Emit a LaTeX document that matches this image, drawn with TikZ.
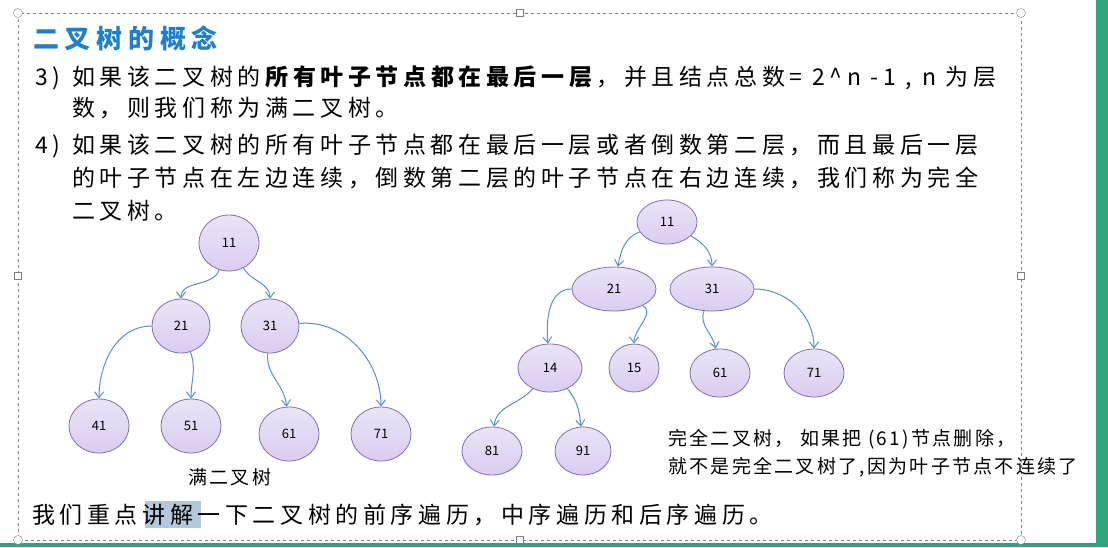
\documentclass[tikz,border=0pt]{standalone}
\usepackage{fontspec}
\setmainfont{Noto Sans CJK SC}
\newfontfamily\bodyf[LetterSpace=20]{Noto Sans CJK SC}
\newfontfamily\capf[LetterSpace=12]{Noto Sans CJK SC}
\newfontfamily\ttlf[LetterSpace=22]{Noto Sans CJK SC}
\usetikzlibrary{shapes.geometric,arrows.meta}
\definecolor{ttl}{HTML}{1F7FC8}
\definecolor{edge}{HTML}{5B8FC9}
\definecolor{nfill}{HTML}{D9CDF0}
\definecolor{nline}{HTML}{8470A8}
\definecolor{hl}{HTML}{B4C8DC}
\definecolor{side}{HTML}{2FA37A}
\tikzset{
 tn/.style={ellipse,draw=nline,line width=0.8pt,top color=nfill!55,bottom color=nfill,minimum width=2*#1,inner sep=0pt,font=\fontsize{13}{13}\selectfont},
 tn/.default=30,
 ed/.style={draw=edge,line width=1pt,-{Straight Barb[length=6pt,width=9pt]}},
 body/.style={anchor=base west,inner sep=0pt,font=\bodyf\fontsize{23}{23}\selectfont},
 captxt/.style={anchor=base west,inner sep=0pt,font=\capf\fontsize{19}{19}\selectfont},
 hdl/.style={circle,draw=gray,fill=white,minimum size=9pt,inner sep=0pt},
 hsq/.style={rectangle,draw=gray,fill=white,minimum size=7pt,inner sep=0pt}
}
\begin{document}
\begin{tikzpicture}[x=1pt,y=-1pt]
\useasboundingbox (0,0) rectangle (1108,547);
\fill[white] (0,0) rectangle (1108,547);
\fill[side] (1096,0) rectangle (1108,547);
\fill[side] (0,543) rectangle (1108,547);
% frame
\draw[gray,dashed,line width=0.8pt] (18,13) rectangle (1021,540);
\foreach \p in {(18,13),(1021,13),(18,540),(1021,540)} \node[hdl] at \p {};
\foreach \p in {(520,13),(520,540),(18,276),(1021,276)} \node[hsq] at \p {};
% text
\node[anchor=base west,inner sep=0pt,text=ttl,font=\ttlf\fontsize{26}{26}\selectfont\bfseries] (title) at (33,48) {二叉树的概念};
\node[body] (n3) at (35,85) {3)};
\node[body] (l1) at (72,85) {如果该二叉树的\textbf{所有叶子节点都在最后一层}，并且结点总数= 2\^{}n -1 , n 为层};
\node[body] (l2) at (72,116) {数，则我们称为满二叉树。};
\node[body] (n4) at (35,153) {4)};
\node[body] (l3) at (72,153) {如果该二叉树的所有叶子节点都在最后一层或者倒数第二层，而且最后一层};
\node[body] (l4) at (72,186) {的叶子节点在左边连续，倒数第二层的叶子节点在右边连续，我们称为完全};
\node[body] (l5) at (72,219) {二叉树。};
\fill[hl] (145,501) rectangle (201,528);
\node[body] (bot) at (32,523) {我们重点讲解一下二叉树的前序遍历，中序遍历和后序遍历。};
\node[captxt] (c1) at (188,484) {满二叉树};
\node[captxt] (c2) at (668,445) {完全二叉树， 如果把 (61)节点删除，};
\node[captxt] (c3) at (668,473) {就不是完全二叉树了,因为叶子节点不连续了};
% left tree
\node[tn,minimum height=56pt] (a11) at (229,243) {11};
\node[tn=29,minimum height=54pt] (a21) at (181,326) {21};
\node[tn=29,minimum height=54pt] (a31) at (270,326) {31};
\node[tn,minimum height=54pt] (a41) at (99,426) {41};
\node[tn,minimum height=54pt] (a51) at (191,426) {51};
\node[tn,minimum height=54pt] (a61) at (289,434) {61};
\node[tn,minimum height=54pt] (a71) at (381,434) {71};
\draw[ed] (a11) to[out=250,in=90] (a21);
\draw[ed] (a11) to[out=300,in=90] (a31);
\draw[ed] (a21) to[out=180,in=90] (a41);
\draw[ed] (a21) to[out=290,in=90] (a51);
\draw[ed] (a31) to[out=265,in=95] (a61);
\draw[ed] (a31) to[out=5,in=90] (a71);
% right tree
\node[tn,minimum height=44pt] (b11) at (667,222) {11};
\node[tn=42,minimum height=44pt] (b21) at (614,289) {21};
\node[tn=42,minimum height=44pt] (b31) at (712,289) {31};
\node[tn=32,minimum height=48pt] (b14) at (550,368) {14};
\node[tn=25,minimum height=48pt] (b15) at (634,368) {15};
\node[tn,minimum height=48pt] (b61) at (720,373) {61};
\node[tn,minimum height=48pt] (b71) at (814,373) {71};
\node[tn,minimum height=48pt] (b81) at (492,451) {81};
\node[tn=28,minimum height=48pt] (b91) at (583,451) {91};
\draw[ed] (b11) to[out=200,in=80] (b21);
\draw[ed] (b11) to[out=330,in=90] (b31);
\draw[ed] (b21) to[out=180,in=95] (b14);
\draw[ed] (b21) to[out=330,in=90] (b15);
\draw[ed] (b31) to[out=250,in=100] (b61);
\draw[ed] (b31) to[out=0,in=90] (b71);
\draw[ed] (b14) to[out=230,in=85] (b81);
\draw[ed] (b14) to[out=310,in=95] (b91);
\end{tikzpicture}
\end{document}
